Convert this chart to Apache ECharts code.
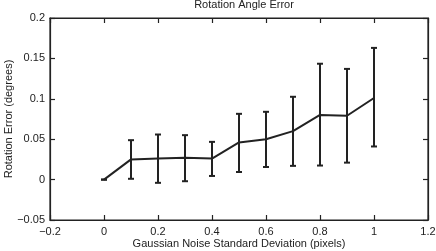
<!DOCTYPE html>
<html><head><meta charset="utf-8">
<script src="https://cdn.jsdelivr.net/npm/echarts@6/dist/echarts.min.js"></script>
<style>html,body{margin:0;padding:0;background:#fff}#c{width:436px;height:251px}</style>
</head><body><div id="c"></div>
<script>
const noise = [0, 0.1, 0.2, 0.3, 0.4, 0.5, 0.6, 0.7, 0.8, 0.9, 1.0];
const meanErr = [0, 0.025, 0.026, 0.027, 0.026, 0.046, 0.050, 0.060, 0.080, 0.079, 0.101];
const lowErr  = [0, 0.001, -0.004, -0.002, 0.0045, 0.0094, 0.0156, 0.017, 0.0174, 0.021, 0.041];
const highErr = [0, 0.0488, 0.0558, 0.055, 0.0467, 0.0814, 0.0839, 0.1025, 0.1434, 0.137, 0.163];

const font = 'Liberation Sans, Arial, Helvetica, sans-serif';
const fmt = v => String(Math.round(v * 1000) / 1000).replace('-', '\u2212');
const lineData = noise.map((x, i) => [x, meanErr[i]]);
const barData = noise.map((x, i) => [x, lowErr[i], highErr[i]]);

const chart = echarts.init(document.getElementById('c'), null, {renderer: 'canvas'});
const AL = {show: true, onZero: false, lineStyle: {color: '#222', width: 1.2}};
const AT = {show: true, inside: true, length: 5, lineStyle: {color: '#222', width: 1.2}};
chart.setOption({
  animation: false,
  backgroundColor: '#fff',
  title: {text: 'Rotation Angle Error', left: 239, textAlign: 'center', top: -6,
    textStyle: {fontFamily: font, fontSize: 11, fontWeight: 'normal', color: '#222'}},
  grid: {left: 50, right: 8, top: 18, bottom: 31, containLabel: false, outerBoundsMode: 'none',
    show: true, borderColor: '#222', borderWidth: 1.2, backgroundColor: 'transparent'},
  xAxis: [
    {type: 'value', min: -0.2, max: 1.2, interval: 0.2, position: 'bottom',
      name: 'Gaussian Noise Standard Deviation (pixels)', nameLocation: 'middle', nameGap: 18,
      nameMoveOverlap: false,
      nameTextStyle: {fontFamily: font, fontSize: 11, color: '#222'},
      axisLine: AL, axisTick: AT, splitLine: {show: false},
      axisLabel: {fontFamily: font, fontSize: 11, color: '#222', margin: 6, formatter: fmt}},
    {type: 'value', min: -0.2, max: 1.2, interval: 0.2, position: 'top',
      axisLine: AL, axisTick: AT, splitLine: {show: false}, axisLabel: {show: false}}
  ],
  yAxis: [
    {type: 'value', min: -0.05, max: 0.2, interval: 0.05, position: 'left',
      name: 'Rotation Error (degrees)', nameLocation: 'middle', nameGap: 36, nameRotate: 90,
      nameMoveOverlap: false,
      nameTextStyle: {fontFamily: font, fontSize: 11, color: '#222'},
      axisLine: AL, axisTick: AT, splitLine: {show: false},
      axisLabel: {fontFamily: font, fontSize: 11, color: '#222', margin: 5, formatter: fmt}},
    {type: 'value', min: -0.05, max: 0.2, interval: 0.05, position: 'right',
      axisLine: AL, axisTick: AT, splitLine: {show: false}, axisLabel: {show: false}}
  ],
  series: [
    {type: 'line', data: lineData, showSymbol: false, symbol: 'none',
      lineStyle: {color: '#222', width: 2}, z: 3},
    {type: 'custom', data: barData, z: 4,
      renderItem: function (params, api) {
        const x = api.value(0);
        const lo = api.coord([x, api.value(1)]);
        const hi = api.coord([x, api.value(2)]);
        const w = 3;
        const style = {stroke: '#222', lineWidth: 2, fill: null};
        return {type: 'group', children: [
          {type: 'line', shape: {x1: lo[0], y1: lo[1], x2: hi[0], y2: hi[1]}, style: style},
          {type: 'line', shape: {x1: lo[0] - w, y1: lo[1], x2: lo[0] + w, y2: lo[1]}, style: style},
          {type: 'line', shape: {x1: hi[0] - w, y1: hi[1], x2: hi[0] + w, y2: hi[1]}, style: style}
        ]};
      }}
  ]
});
</script></body></html>
